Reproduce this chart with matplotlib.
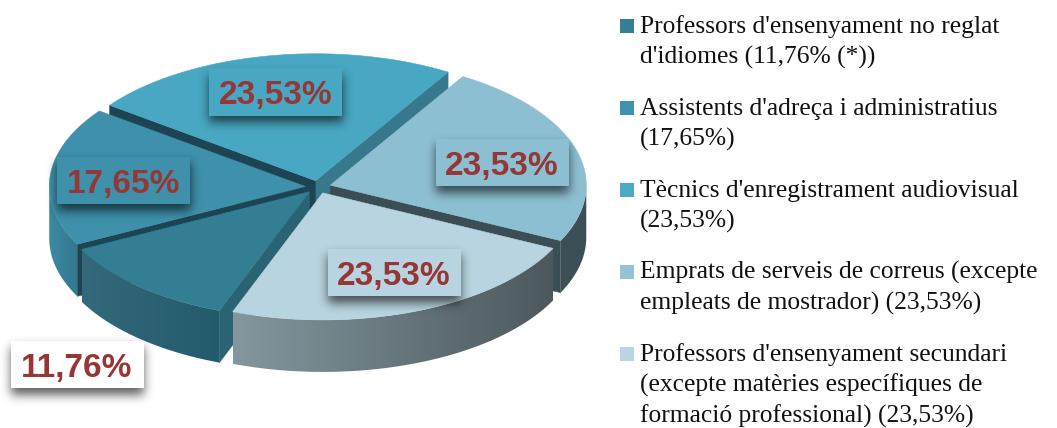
#!/usr/bin/python3
# Exploded 3D style pie with boxed percentage labels and a text legend on the right

import numpy as np
import matplotlib
matplotlib.use("Agg")
import matplotlib.pyplot as plt
from matplotlib.colors import to_rgb
from matplotlib.patches import Polygon, Rectangle

# Data, in clockwise order from the start angle
values = [11.76, 17.65, 23.53, 23.53, 23.53]
value_labels = ["11,76%", "17,65%", "23,53%", "23,53%", "23,53%"]
legend_lines = [
    ["Professors d'ensenyament no reglat", "d'idiomes (11,76% (*))"],
    ["Assistents d'adreça i administratius", "(17,65%)"],
    ["Tècnics d'enregistrament audiovisual", "(23,53%)"],
    ["Emprats de serveis de correus (excepte", "empleats de mostrador) (23,53%)"],
    ["Professors d'ensenyament secundari", "(excepte matèries específiques de", "formació professional) (23,53%)"],
]

# Colours per slice
top_colors = ["#337E93", "#3F91AB", "#48A7C2", "#8DBFD2", "#B8D4E0"]
legend_colors = ["#357E94", "#3E93AD", "#4AA9C5", "#93C3D5", "#BAD6E2"]
rim_colors = [("#33697B", "#235A6C"), ("#3C8AA3", "#33778D"), ("#37788C", "#37788C"),
              ("#3C4F56", "#3C4F56"), ("#84979E", "#4C585D")]
edge_colors = ["#2A6474", "#1D4452", "#1D4452", "#3B4E55", "#3B4E55"]
cut_color_s3 = "#37788C"
box_colors = ["#FFFFFF", "#3F91AB", "#48A7C2", "#8DBFD2", "#B8D4E0"]
label_color = "#953735"

# Pie layout in pixels
cx, cy = 318, 187
rx, ry = 256, 127
depth = 52
explode = 0.05
start_angle = -110.6
draw_order = [2, 3, 1, 0, 4]

# Label box centres and sizes, pixels
box_centres = [(77, 364.5), (123.5, 180.5), (275.5, 92), (502, 162.5), (394, 272.5)]
box_w, box_h = 133, 47.5

fig = plt.figure(figsize=(10.57, 4.28), dpi=100)
ax = fig.add_axes([0, 0, 1, 1])
ax.set_axis_off()

z = [10]


def next_z():
    z[0] += 1
    return z[0]


def arc(apex, a1, a2, drop=0):
    t = np.radians(np.linspace(a1, a2, 160))
    return np.column_stack([apex[0] + rx * np.cos(t), apex[1] + drop - ry * np.sin(t)])


def side_quad(apex, angle, color):
    t = np.radians(angle)
    p = (apex[0] + rx * np.cos(t), apex[1] - ry * np.sin(t))
    pts = [apex, p, (p[0], p[1] + depth), (apex[0], apex[1] + depth)]
    ax.add_patch(Polygon(pts, closed=True, fc=color, ec=color, lw=0.4, zorder=next_z()))


def rim_face(apex, a1, a2, colors):
    top = arc(apex, a1, a2)
    bottom = arc(apex, a1, a2, depth)[::-1]
    pts = np.vstack([top, bottom])
    patch = Polygon(pts, closed=True, fc="none", ec="none", transform=ax.transData)
    ax.add_patch(patch)
    c1, c2 = np.array(to_rgb(colors[0])), np.array(to_rgb(colors[1]))
    f = np.linspace(0, 1, 256)[:, None]
    img = (c1 * (1 - f) + c2 * f)[None, :, :]
    im = ax.imshow(img, extent=(pts[:, 0].min(), pts[:, 0].max(), pts[:, 1].max(), pts[:, 1].min()),
                   aspect="auto", zorder=next_z(), interpolation="bilinear")
    im.set_clip_path(patch)


def blur_profile(lo, hi, n_lo, n_hi, sigma):
    xs = np.arange(n_lo, n_hi)
    box = ((xs >= lo) & (xs <= hi)).astype(float)
    k = np.arange(-3 * sigma, 3 * sigma + 1)
    g = np.exp(-k ** 2 / (2.0 * sigma ** 2))
    return np.convolve(box, g / g.sum(), mode="same")


def shadow(x0, y0, x1, y1, sigma=5, alpha=0.62, dy=6):
    pad = 3 * sigma + 2
    l, r = int(x0 - pad), int(x1 + pad)
    t, b = int(y0 + dy - pad), int(y1 + dy + pad)
    a = np.outer(blur_profile(y0 + dy, y1 + dy, t, b, sigma), blur_profile(x0, x1, l, r, sigma))
    img = np.zeros(a.shape + (4,))
    img[..., 3] = a * alpha
    ax.imshow(img, extent=(l, r, b, t), aspect="auto", zorder=next_z(), interpolation="bilinear")


# Slice angles, clockwise
spans = np.array(values) / sum(values) * 360.0
ends = start_angle - np.concatenate([[0], np.cumsum(spans)[:-1]])
starts = ends - spans
mids = (starts + ends) / 2.0
apexes = [(cx + explode * rx * np.cos(np.radians(m)), cy - explode * ry * np.sin(np.radians(m))) for m in mids]

for i in draw_order:
    a1, a2 = starts[i], ends[i]
    apex = apexes[i]

    # Cut faces that point towards the viewer
    if np.cos(np.radians(a1)) > 0:
        side_quad(apex, a1, cut_color_s3 if i == 2 else edge_colors[i])
    if np.cos(np.radians(a2)) < 0:
        side_quad(apex, a2, edge_colors[i])

    # Outer rim, only the lower half of the ellipse shows
    for k in range(-2, 2):
        lo, hi = max(a1, -180 + 360 * k), min(a2, 360 * k)
        if hi > lo:
            rim_face(apex, lo, hi, rim_colors[i])

    pts = np.vstack([[apex], arc(apex, a1, a2)])
    ax.add_patch(Polygon(pts, closed=True, fc=top_colors[i], ec=top_colors[i], lw=0.4, zorder=next_z()))

# Boxed percentage labels
for i, (bx, by) in enumerate(box_centres):
    x0, y0 = bx - box_w / 2, by - box_h / 2
    shadow(x0, y0, x0 + box_w, y0 + box_h)
    ax.add_patch(Rectangle((x0, y0), box_w, box_h, fc=box_colors[i], ec="none", zorder=next_z()))
    ax.text(bx, by + 12, value_labels[i], family="Liberation Sans", fontweight="bold", fontsize=24,
            color=label_color, ha="center", va="baseline", zorder=next_z())

# Legend
sq_x, sq_size = 620, 14
first_base, entry_step, line_step = 33, 82, 30.8
for i, lines in enumerate(legend_lines):
    base = first_base + i * entry_step
    ax.add_patch(Rectangle((sq_x, base - sq_size), sq_size, sq_size, fc=legend_colors[i], ec="none", zorder=next_z()))
    for j, line in enumerate(lines):
        ax.text(640, base + j * line_step, line, family="Liberation Serif", fontsize=18.4,
                color="#111111", ha="left", va="baseline", zorder=next_z())

ax.set_xlim(0, 1057)
ax.set_ylim(428, 0)
fig.savefig("out.png", dpi=100)
